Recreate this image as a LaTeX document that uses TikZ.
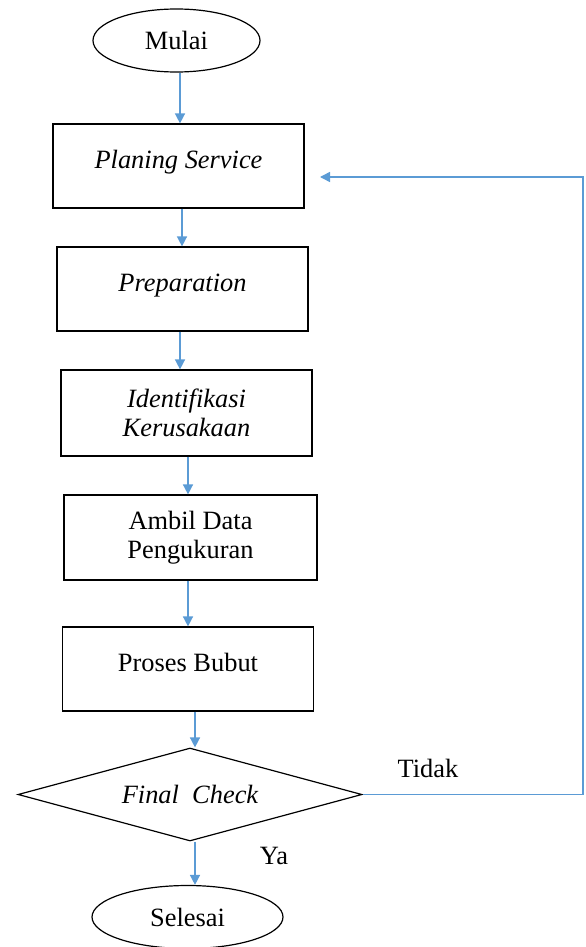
\documentclass[tikz,border=0pt]{standalone}
\usepackage{fontspec}
\setmainfont{Liberation Serif}
\usetikzlibrary{shapes.geometric,arrows.meta}
\definecolor{flowblue}{RGB}{91,155,213}
\begin{document}
\begin{tikzpicture}[x=.5pt,y=-.5pt,>={Triangle[length=5pt,width=5pt]},
  font=\fontsize{13.2}{14.4}\selectfont,
  box/.style={draw,line width=.6pt,minimum width=125.5pt,minimum height=42pt,inner sep=2pt,align=center},
  oneline/.style={text height=.7em,text depth=.5em},
  term/.style={draw,ellipse,line width=.6pt,inner sep=0pt},
  flow/.style={->,color=flowblue,line width=.75pt}]
\useasboundingbox (0,0) rectangle (585,947);
\node[term,minimum width=83.5pt,minimum height=31.5pt] (start) at (176.5,40.5) {Mulai};
\node[box,oneline] (plan) at (178.5,166) {\itshape Planing Service};
\node[box,oneline] (prep) at (182.5,289) {\itshape Preparation};
\node[box,minimum height=43pt] (ident) at (186.5,413) {\itshape Identifikasi\\\itshape Kerusakaan};
\node[box,minimum width=126.5pt,minimum height=42.5pt] (ambil) at (190.5,537.5) {Ambil Data\\Pengukuran};
\node[box,oneline] (proses) at (188,669) {Proses Bubut};
\node[draw,diamond,aspect=3.7,line width=.6pt,inner sep=0pt,minimum width=172pt,minimum height=46.5pt] (check) at (190,794.5) {\itshape Final\ \ Check};
\node[term,minimum width=95.5pt,minimum height=31.5pt] (stop) at (187.5,917) {Selesai};
% arrows down the chart
\draw[flow] ([xshift=1.75pt]start.south) -- ([xshift=1.75pt]start.south |- plan.north);
\draw[flow] ([xshift=1.75pt]plan.south) -- ([xshift=1.75pt]plan.south |- prep.north);
\draw[flow] ([xshift=-1.25pt]prep.south) -- ([xshift=-1.25pt]prep.south |- ident.north);
\draw[flow] ([xshift=.75pt]ident.south) -- ([xshift=.75pt]ident.south |- ambil.north);
\draw[flow] ([xshift=-1.25pt]ambil.south) -- ([xshift=-1.25pt]ambil.south |- proses.north);
\draw[flow] ([xshift=3.5pt]proses.south) -- ([xshift=3.5pt]proses.south |- check.north);
\draw[flow] ([xshift=2.5pt]check.south) -- ([xshift=2.5pt]check.south |- stop.north);
% back to planing
\coordinate (loop) at (583,177);
\coordinate (loopend) at (320,177);
\draw[flow] (check.east) -| (loop) -- (loopend);
\node (no) at (428,768) {Tidak};
\node (yes) at (274,856) {Ya};
\end{tikzpicture}
\end{document}
